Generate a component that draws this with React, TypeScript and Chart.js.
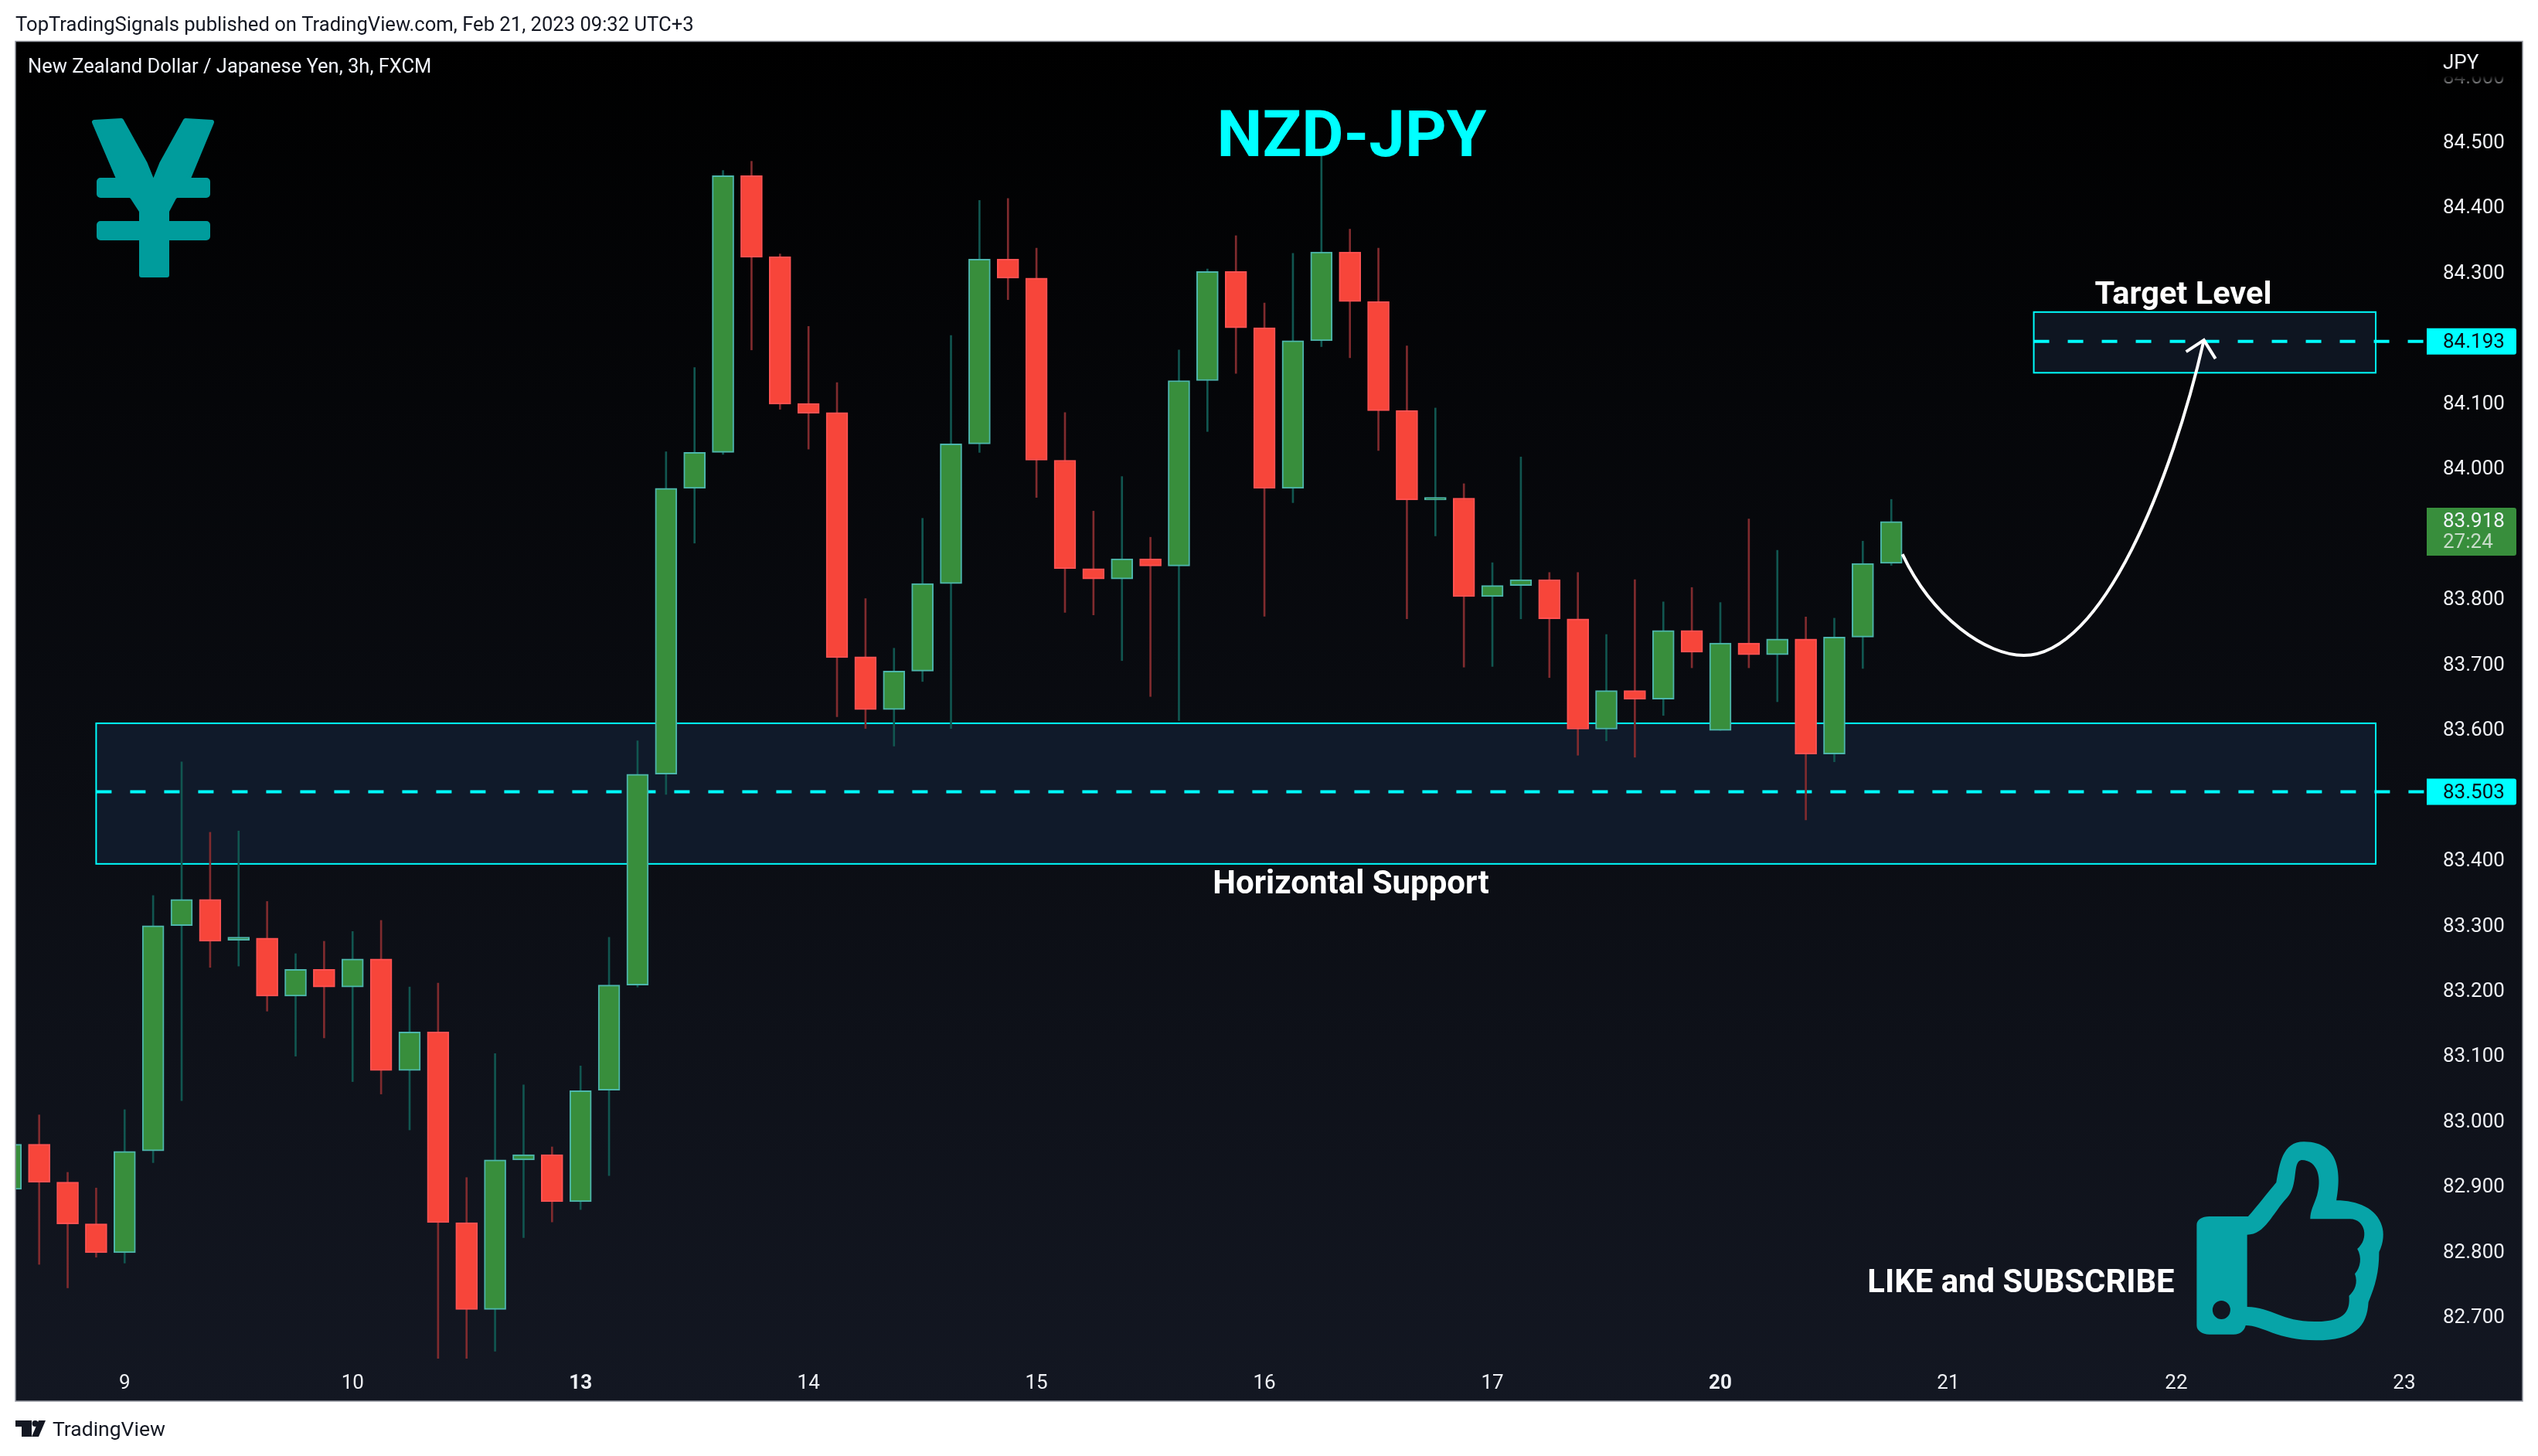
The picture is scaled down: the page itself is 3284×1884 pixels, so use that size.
import React, { useEffect, useRef } from "react";
import { Chart, registerables } from "chart.js";

Chart.register(...registerables);

const opens = [82.894,82.963,82.905,82.841,82.797,82.953,83.298,83.338,83.2755,83.279,83.19,83.231,83.204,83.247,83.076,83.135,82.843,82.71,82.939,82.947,82.875,83.046,83.207,83.53,83.968,84.023,84.447,84.323,84.098,84.084,83.71,83.629,83.688,83.822,84.036,84.319,84.29,84.011,83.845,83.829,83.86,83.849,84.133,84.3,84.214,83.968,84.194,84.33,84.254,84.087,83.95,83.953,83.802,83.819,83.828,83.768,83.599,83.658,83.645,83.75,83.597,83.731,83.713,83.737,83.561,83.74,83.853];
const highs = [82.97,83.008,82.92,82.896,83.016,83.344,83.549,83.441,83.443,83.335,83.255,83.274,83.289,83.306,83.204,83.21,82.912,83.102,83.054,82.959,83.083,83.28,83.581,84.024,84.153,84.455,84.469,84.327,84.216,84.13,83.799,83.723,83.922,84.202,84.409,84.412,84.336,84.084,83.933,83.986,83.893,84.18,84.304,84.355,84.252,84.328,84.478,84.365,84.336,84.186,84.091,83.975,83.854,84.016,83.839,83.839,83.744,83.828,83.794,83.816,83.793,83.921,83.873,83.771,83.769,83.887,83.951];
const lows = [82.89,82.779,82.743,82.79,82.781,82.935,83.03,83.234,83.236,83.167,83.098,83.126,83.059,83.04,82.985,82.635,82.635,82.646,82.82,82.844,82.863,82.915,83.204,83.499,83.884,84.02,84.18,84.089,84.028,83.618,83.6,83.573,83.672,83.6,84.023,84.257,83.954,83.778,83.774,83.704,83.649,83.612,84.055,84.144,83.772,83.946,84.185,84.168,84.026,83.768,83.895,83.694,83.695,83.768,83.678,83.559,83.581,83.556,83.62,83.693,83.597,83.693,83.641,83.46,83.549,83.692,83.85];
const closes = [82.963,82.905,82.841,82.797,82.952,83.298,83.338,83.274,83.2805,83.19,83.231,83.204,83.247,83.076,83.135,82.843,82.71,82.939,82.947,82.875,83.045,83.207,83.53,83.968,84.023,84.447,84.322,84.097,84.083,83.7085,83.629,83.688,83.822,84.036,84.319,84.29,84.011,83.845,83.829,83.86,83.849,84.133,84.3,84.214,83.968,84.194,84.33,84.254,84.087,83.95,83.954,83.802,83.819,83.828,83.768,83.599,83.658,83.645,83.75,83.717,83.731,83.713,83.737,83.561,83.74,83.853,83.917];

const dayTickIndex = [4,12,20,28,36,44,52,60,68,76,84];
const dayTickLabels = ["9","10","13","14","15","16","17","20","21","22","23"];
const boldDays = ["13","20"];
const priceTicks = [84.6,84.5,84.4,84.3,84.1,84.0,83.8,83.7,83.6,83.4,83.3,83.2,83.1,83.0,82.9,82.8,82.7];

const supportZone = { fromIndex: 3, toIndex: 83, top: 83.608, bottom: 83.3926, level: 83.503 };
const targetZone = { fromIndex: 71, toIndex: 83, top: 84.238, bottom: 84.145, level: 84.193 };
const lastPrice = 83.918;
const countdown = "27:24";
const forecastPath = [[66.39,83.867],[67.45,83.769],[69.34,83.712],[70.65,83.712],[73.41,83.712],[75.86,83.982],[76.97,84.195]];

const W = 3284, H = 1884;
const FL = 20, FT = 54, FR = 3264, FB = 1813;
const AXIS = "#eef0f4";
const F = "Roboto, sans-serif";

function text(c: any, s: string, x: number, y: number, font: string, color: string, align: any = "left") {
  c.font = font; c.fillStyle = color; c.textAlign = align; c.textBaseline = "middle"; c.fillText(s, x, y);
}

function drawZone(c: any, sx: any, sy: any, z: any, fill: string) {
  const x0 = sx.getPixelForValue(z.fromIndex), x1 = sx.getPixelForValue(z.toIndex);
  const y0 = sy.getPixelForValue(z.top), y1 = sy.getPixelForValue(z.bottom);
  c.fillStyle = fill; c.fillRect(x0, y0, x1 - x0, y1 - y0);
  c.strokeStyle = "#00ffff"; c.lineWidth = 2; c.setLineDash([]); c.strokeRect(x0, y0, x1 - x0, y1 - y0);
  const ly = sy.getPixelForValue(z.level);
  c.lineWidth = 4; c.setLineDash([20, 24]);
  c.beginPath(); c.moveTo(x0, ly); c.lineTo(sx.right, ly); c.stroke(); c.setLineDash([]);
}

function drawYen(c: any) {
  c.fillStyle = "#009c9c"; c.strokeStyle = "#009c9c"; c.lineJoin = "round"; c.lineWidth = 6;
  c.beginPath();
  [[122,158],[157,156],[188,212],[198.5,238],[209,212],[240,156],[274,158],[240,240],[225,256],[216,273],[216,356],[183,356],[183,273],[172,256],[157,240]].forEach((p, i) => i ? c.lineTo(p[0], p[1]) : c.moveTo(p[0], p[1]));
  c.closePath(); c.fill(); c.stroke();
  c.beginPath(); c.roundRect(125, 230, 147, 26, 5); c.roundRect(125, 286, 147, 25, 5); c.fill();
}

function drawThumb(c: any) {
  const tx = (x: number) => 2300 + x / 1.593, ty = (y: number) => 1400 + y / 3;
  const path = (pts: number[][]) => {
    pts.forEach((p, i) => {
      if (i === 0) c.moveTo(tx(p[0]), ty(p[1]));
      else if (p.length === 2) c.lineTo(tx(p[0]), ty(p[1]));
      else c.bezierCurveTo(tx(p[0]), ty(p[1]), tx(p[2]), ty(p[3]), tx(p[4]), ty(p[5]));
    });
    c.closePath();
  };
  c.fillStyle = "#07a4a8";
  c.beginPath();
  path([[970,522],[890,522],[875,522,864,535,864,555],[864,945],[864,965,875,980,890,980],[940,980],[955,980,962,965,965,945],
    [1000,945,1030,1003,1110,1003],[1190,1003,1215,950,1218,855],[1232,790,1240,740,1240,660],[1250,620,1250,585,1246,560],[1235,490,1195,460,1152,460],
    [1160,380,1165,232,1085,232],[1040,232,1035,320,1028,390],[1010,430,990,480,970,522]]);
  path([[968,593],[1005,593,1020,510,1050,450],[1075,400,1060,310,1080,303],[1115,303,1122,380,1112,440],[1105,480,1098,500,1098,532],[1180,532],
    [1212,532,1220,610,1195,648],[1205,680,1202,720,1190,745],[1197,780,1190,810,1178,830],[1180,880,1175,930,1110,930],[1040,932,1020,875,968,873]]);
  c.ellipse(tx(915), ty(885), 11.5, 12, 0, 0, Math.PI * 2);
  c.fill("evenodd");
}

function drawTvLogo(c: any) {
  c.fillStyle = "#131722";
  c.beginPath();
  c.moveTo(20, 1838); c.lineTo(41, 1838); c.lineTo(41, 1859); c.lineTo(28, 1859); c.lineTo(28, 1846); c.lineTo(20, 1846); c.closePath(); c.fill();
  c.beginPath(); c.arc(45.5, 1842, 4, 0, Math.PI * 2); c.fill();
  c.beginPath(); c.moveTo(50, 1838); c.lineTo(59, 1838); c.lineTo(50, 1859); c.lineTo(41, 1859); c.closePath(); c.fill();
  text(c, "TradingView", 68, 1851, `26.5px ${F}`, "#131722");
}

// Roboto's glyph centre sits above the canvas "middle" baseline used by the axis.
function nudgeLabels(s: any) {
  const orig = s._computeLabelItems;
  s._computeLabelItems = function (area: any) {
    return orig.call(this, area).map((it: any) => ({ ...it, textOffset: it.textOffset + 1.5 }));
  };
}

const chrome = {
  id: "chrome",
  beforeDraw(chart: any) {
    const c = chart.ctx;
    c.save();
    c.fillStyle = "#ffffff"; c.fillRect(0, 0, W, H);
    const g = c.createLinearGradient(0, FT, 0, FB);
    g.addColorStop(0, "#000000"); g.addColorStop(1, "#131722");
    c.fillStyle = g; c.fillRect(FL, FT, FR - FL, FB - FT);
    c.restore();
  },
  beforeDatasetsDraw(chart: any) {
    const c = chart.ctx, sx = chart.scales.x, sy = chart.scales.y;
    c.save();
    drawZone(c, sx, sy, targetZone, "#0e1521");
    drawZone(c, sx, sy, supportZone, "#101a2a");
    c.restore();
  },
  afterDraw(chart: any) {
    const c = chart.ctx, sx = chart.scales.x, sy = chart.scales.y;
    c.save();
    const pt = (p: number[]) => [sx.getPixelForValue(p[0]), sy.getPixelForValue(p[1])];
    const q = forecastPath.map(pt);
    c.strokeStyle = "#ffffff"; c.lineWidth = 4; c.lineCap = "butt";
    c.beginPath(); c.moveTo(q[0][0], q[0][1]);
    c.bezierCurveTo(q[1][0], q[1][1], q[2][0], q[2][1], q[3][0], q[3][1]);
    c.bezierCurveTo(q[4][0], q[4][1], q[5][0], q[5][1], q[6][0], q[6][1]);
    c.stroke();
    const tip = q[6];
    c.beginPath(); c.moveTo(tip[0] - 23, tip[1] + 15); c.lineTo(tip[0], tip[1]); c.lineTo(tip[0] + 15, tip[1] + 24); c.stroke();

    const box = (level: number, top: number, h: number, fill: string) => {
      const y = sy.getPixelForValue(level);
      c.fillStyle = fill; c.beginPath(); c.roundRect(sx.right, y + top, 116, h, [0, 3, 3, 0]); c.fill();
      return y;
    };
    let y = box(targetZone.level, -17, 34, "#00ffff");
    text(c, targetZone.level.toFixed(3), 3161, y + 1.5, `26px ${F}`, "#0a0e14");
    y = box(supportZone.level, -17, 34, "#00ffff");
    text(c, supportZone.level.toFixed(3), 3161, y + 1.5, `26px ${F}`, "#0a0e14");
    y = box(lastPrice, -17, 62, "#388e3c");
    text(c, lastPrice.toFixed(3), 3161, y + 1.5, `26px ${F}`, "#f0f3fa");
    text(c, countdown, 3161, y + 28.5, `26px ${F}`, "#c8dcc9");

    const fade = c.createLinearGradient(0, FT, 0, 110);
    fade.addColorStop(0, "#000"); fade.addColorStop(0.79, "#000"); fade.addColorStop(1, "rgba(0,0,0,0.35)");
    c.fillStyle = fade; c.fillRect(3140, FT, FR - 3140, 56);
    text(c, "JPY", 3161, 82, `26px ${F}`, AXIS);

    c.strokeStyle = "#9598a1"; c.lineWidth = 1.5; c.strokeRect(FL, FT - 0.5, FR - FL, FB - FT + 0.5);

    text(c, "TopTradingSignals published on TradingView.com, Feb 21, 2023 09:32 UTC+3", 20, 33.5, `25.6px ${F}`, "#131722");
    text(c, "New Zealand Dollar / Japanese Yen, 3h, FXCM", 36, 87.5, `25.5px ${F}`, "#f0f3fa");
    text(c, "NZD-JPY", 1749, 181, `bold 83.5px ${F}`, "#00ffff", "center");
    text(c, "Target Level", 2825, 383, `bold 41.5px ${F}`, "#ffffff", "center");
    text(c, "Horizontal Support", 1748, 1145, `bold 42px ${F}`, "#ffffff", "center");
    text(c, "LIKE and SUBSCRIBE", 2615, 1662, `bold 41.8px ${F}`, "#ffffff", "center");
    drawYen(c);
    drawThumb(c);
    drawTvLogo(c);
    c.restore();
  },
};

export default function App() {
  const ref = useRef<HTMLCanvasElement | null>(null);
  useEffect(() => {
    const idx = opens.map((_, i) => i);
    const up = idx.map((i) => closes[i] >= opens[i]);
    const chart = new Chart(ref.current as any, {
      type: "bar",
      data: {
        datasets: [
          {
            label: "wick",
            order: 2,
            grouped: false,
            barThickness: 2,
            data: idx.map((i) => ({ x: i, y: [lows[i], highs[i]] })),
            backgroundColor: up.map((u) => (u ? "#115650" : "#802b2e")),
            borderWidth: 0,
          },
          {
            label: "body",
            order: 1,
            grouped: false,
            barThickness: 28,
            data: idx.map((i) => ({ x: i, y: [opens[i], closes[i]] })),
            backgroundColor: up.map((u) => (u ? "#388e3c" : "#f7453a")),
            borderColor: up.map((u) => (u ? "#4db6ac" : "#ff5252")),
            borderWidth: 2,
            borderSkipped: false,
          },
        ] as any,
      },
      options: {
        animation: false,
        responsive: false,
        devicePixelRatio: 1,
        layout: { padding: { left: FL, top: FT, right: W - FR + 0, bottom: H - FB } },
        plugins: { legend: { display: false }, tooltip: { enabled: false } },
        events: [],
        scales: {
          x: {
            type: "linear",
            offset: false,
            min: (FL - 13.8) / 36.87,
            max: (3140 - 13.8) / 36.87,
            grid: { display: false, drawTicks: false },
            border: { display: false },
            afterBuildTicks: (s: any) => { s.ticks = dayTickIndex.map((v) => ({ value: v })); },
            afterFit: (s: any) => { s.height = 43; },
            ticks: {
              autoSkip: false,
              maxRotation: 0,
              padding: 5,
              color: AXIS,
              font: (ctx: any) => {
                const l = dayTickLabels[dayTickIndex.indexOf(ctx.tick?.value)];
                return { family: "Roboto", size: 26, weight: boldDays.includes(l) ? "bold" : "normal" };
              },
              callback: (v: any) => dayTickLabels[dayTickIndex.indexOf(v)] ?? "",
            },
          },
          y: {
            position: "right",
            min: 84.5 - (1770 - 182.5) / 844.6,
            max: 84.5 + (182.5 - FT) / 844.6,
            grid: { display: false, drawTicks: false },
            border: { display: false },
            afterBuildTicks: (s: any) => { s.ticks = priceTicks.map((v) => ({ value: v })); },
            afterFit: (s: any) => { s.width = FR - 3140; },
            afterUpdate: nudgeLabels,
            ticks: {
              autoSkip: false,
              padding: 21,
              color: AXIS,
              font: { family: "Roboto", size: 26 },
              callback: (v: any) => Number(v).toFixed(3),
            },
          },
        },
      } as any,
      plugins: [chrome],
    });
    return () => chart.destroy();
  }, []);
  return <canvas ref={ref} width={W} height={H} style={{ position: "fixed", left: 0, top: 0, width: W, height: H, display: "block" }} />;
}
